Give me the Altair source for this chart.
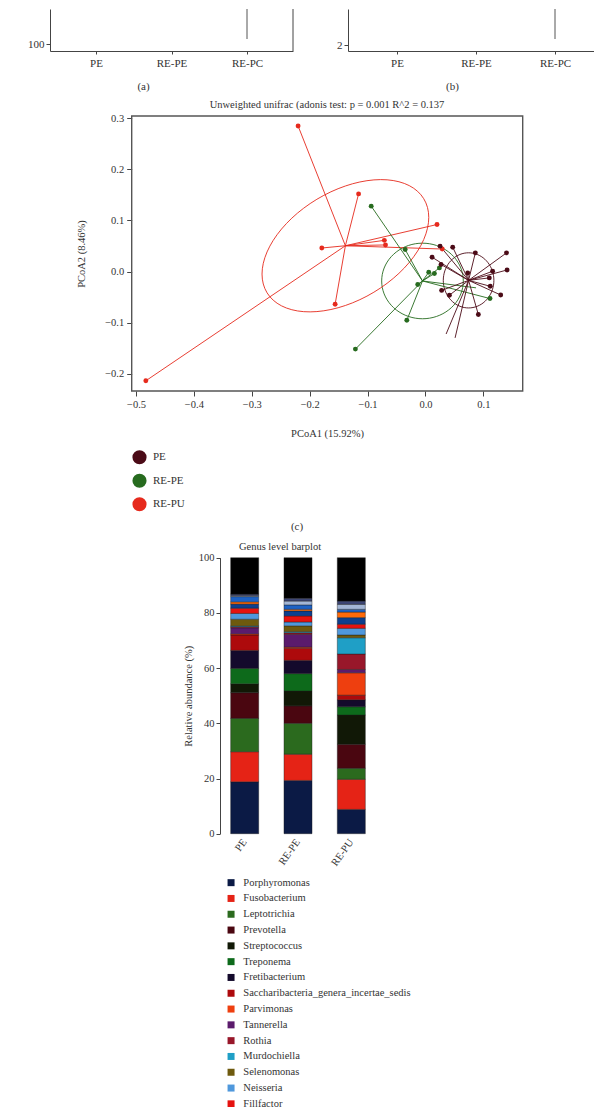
import altair as alt
import pandas as pd

FONT = "Liberation Serif"
INK = "#333333"
AX = "#444444"
W = 586

# ---------------- (a) / (b): box summaries (only the low end of RE-PC is in view) ----------------
box_groups = ["PE", "RE-PE", "RE-PC"]
box_colors = ["#4b0b17", "#276b1f", "#e62a1d"]
a_low = [205, 200, 110]
a_q1 = [260, 250, 178]
a_median = [300, 290, 215]
a_q3 = [345, 335, 255]
a_high = [430, 410, 330]
b_low = [3.2, 3.1, 2.12]
b_q1 = [3.8, 3.7, 3.0]
b_median = [4.1, 4.0, 3.3]
b_q3 = [4.4, 4.3, 3.6]
b_high = [4.9, 4.8, 4.2]
a_ticks = [100]
b_ticks = [2]
label_a = "(a)"
label_b = "(b)"

# ---------------- (c): PCoA coordinates ----------------
pc_groups = ["PE", "RE-PE", "RE-PU"]
pc_colors = ["#4b0b17", "#276b1f", "#e62a1d"]
pe_x = [0.0253, 0.0471, 0.0862, 0.140, 0.0115, 0.027, 0.073, 0.116, 0.141, 0.1103, 0.112, 0.130, 0.028, 0.0414, 0.0914, 0.0357, 0.0512]
pe_y = [0.0496, 0.0476, 0.0365, 0.0365, 0.028, 0.0137, -0.003, 0.0006, 0.003, -0.0125, -0.029, -0.046, -0.037, -0.0465, -0.0843, -0.1224, -0.130]
pe_dot = [1, 1, 1, 1, 1, 1, 1, 1, 1, 1, 1, 1, 1, 1, 1, 0, 0]
repe_x = [-0.0937, -0.035, 0.0057, 0.0155, 0.0241, -0.0133, -0.0322, -0.121, 0.1115, 0.0874]
repe_y = [0.128, 0.043, -0.0014, -0.004, 0.0071, -0.0255, -0.0955, -0.152, -0.053, -0.032]
repe_dot = [1, 1, 1, 1, 1, 1, 1, 1, 1, 0]
repu_x = [-0.220, -0.1155, 0.020, -0.071, -0.069, -0.179, 0.029, -0.156, -0.483]
repu_y = [0.285, 0.152, 0.092, 0.061, 0.052, 0.046, 0.044, -0.064, -0.214]
repu_dot = [1, 1, 1, 1, 1, 1, 1, 1, 1]
# ellipse shape (half extents along x / y and phase), centred on each group's centroid
ell_ax = [0.0437, 0.0705, 0.144]
ell_ay = [0.054, 0.074, 0.1295]
ell_phase = [1.5708, 1.5708, 1.128]
pc_xticks = [-0.5, -0.4, -0.3, -0.2, -0.1, 0.0, 0.1]
pc_yticks = [-0.2, -0.1, 0.0, 0.1, 0.2, 0.3]
pc_title = "Unweighted unifrac (adonis test: p = 0.001 R^2 = 0.137"
pc_xtitle = "PCoA1 (15.92%)"
pc_ytitle = "PCoA2 (8.46%)"
label_c = "(c)"

# ---------------- genus barplot ----------------
samples = ["PE", "RE-PE", "RE-PU"]
genera = ["Porphyromonas", "Fusobacterium", "Leptotrichia", "Prevotella", "Streptococcus",
          "Treponema", "Fretibacterium", "Saccharibacteria_genera_incertae_sedis", "Parvimonas",
          "Tannerella", "Rothia", "Murdochiella", "Selenomonas", "Neisseria", "Fillfactor",
          "genus_16", "genus_17", "genus_18", "genus_19", "genus_20", "Others"]
genus_colors = ["#0b1a45", "#e52316", "#2b6a1e", "#4a0610", "#111806",
                "#0d6a1b", "#140a2c", "#ad0a0c", "#ee3f0f",
                "#5b1b6c", "#98172a", "#1f9fc6", "#6e5a0e", "#4f98dc", "#e5120f",
                "#0d3f8e", "#ff6a0a", "#1e62c4", "#a3b6d6", "#3d4675", "#000000"]
pe_ab = [18.8, 10.9, 12.1, 9.3, 3.2, 5.6, 6.5, 5.6, 0.4, 2.2, 0.4, 0.3, 2.4, 2.1, 1.9, 1.5, 0.8, 1.9, 0.3, 0.6, 13.2]
repe_ab = [19.3, 9.5, 11.2, 6.3, 5.4, 6.3, 4.8, 4.4, 0.4, 4.6, 0.6, 0.4, 2.1, 1.4, 2.2, 1.8, 0.6, 1.6, 1.4, 1.0, 14.7]
repu_ab = [8.8, 10.9, 4.0, 8.7, 10.6, 3.0, 2.5, 1.7, 8.1, 1.2, 5.6, 5.9, 1.0, 2.4, 1.5, 2.4, 2.0, 1.0, 1.8, 1.2, 15.7]
bar_yticks = [0, 20, 40, 60, 80, 100]
bar_title = "Genus level barplot"
bar_ytitle = "Relative abundance (%)"
legend_shown = genera[:15]

# ======================= row 1 : panels (a) and (b) =======================
HT = 42


def box_panel(low, q1, med, q3, high, xrange, xpad, xalign, yoffset, ydomain, yticks, yfmt, label, title_x, frame_x=None):
    df = pd.DataFrame({"group": box_groups, "low": low, "q1": q1, "median": med, "q3": q3, "high": high})
    xs = alt.Scale(type="point", domain=box_groups, range=xrange, padding=xpad, align=xalign)
    xax = alt.Axis(orient="bottom", title=label, titleX=title_x, titleY=35, titleBaseline="middle",
                   labelAngle=0, tickSize=3, labelPadding=3, labelFontSize=11, titleFontSize=11)
    x = alt.X("group:N", sort=box_groups, scale=xs, axis=xax)
    ys = alt.Scale(domain=ydomain, nice=False, zero=False)
    yax = alt.Axis(orient="left", offset=yoffset, values=yticks, format=yfmt, title=None, tickSize=4,
                   labelFontSize=11)
    col = alt.Color("group:N", scale=alt.Scale(domain=box_groups, range=box_colors), legend=None)
    base = alt.Chart(df)
    whisk = base.mark_rule(color="#555555", strokeWidth=1, clip=True).encode(
        x=x, y=alt.Y("low:Q", scale=ys, axis=yax), y2="high:Q")
    box = base.mark_bar(size=38, stroke="#111111", strokeWidth=0.8, clip=True).encode(
        x=x, y=alt.Y("q1:Q", scale=ys, axis=yax), y2="q3:Q", color=col)
    med_t = base.mark_tick(size=38, color="#111111", thickness=1.5, clip=True).encode(
        x=x, y=alt.Y("median:Q", scale=ys, axis=yax))
    layers = [whisk, box, med_t]
    if frame_x is not None:
        frame = alt.Chart(alt.Data(values=[{}])).mark_rule(color=AX, strokeWidth=1).encode(
            x=alt.value(frame_x), y=alt.value(0), y2=alt.value(HT))
        layers.append(frame)
    return alt.layer(*layers)


panel_a = box_panel(a_low, a_q1, a_median, a_q3, a_high, [42, 285], 0.609, 0.5, -42,
                    [86, 170], a_ticks, "d", label_a, 135, frame_x=285)
panel_b = box_panel(b_low, b_q1, b_median, b_q3, b_high, [340, 586], 0.557, 0.557, -340,
                    [1.88, 2.72], b_ticks, "d", label_b, 444)
row_top = alt.layer(panel_a, panel_b).resolve_scale(x="independent", y="independent", color="independent").properties(
    width=W, height=HT)

# ======================= row 2 : PCoA =======================
HP = 340
frames = []
for g, xs_, ys_, ds_ in [("RE-PU", repu_x, repu_y, repu_dot), ("RE-PE", repe_x, repe_y, repe_dot), ("PE", pe_x, pe_y, pe_dot)]:
    frames.append(pd.DataFrame({"group": g, "x": xs_, "y": ys_, "dot": ds_}))
pts = pd.concat(frames, ignore_index=True)
cent = pts.groupby("group")[["x", "y"]].mean()
ell = pd.DataFrame({"group": pc_groups, "ax": ell_ax, "ay": ell_ay, "phase": ell_phase})
ell["cx"] = [cent.loc[g, "x"] for g in pc_groups]
ell["cy"] = [cent.loc[g, "y"] for g in pc_groups]

PX = alt.X("x:Q", scale=alt.Scale(domain=[-0.5074, 0.168], range=[123.7, 514.7], nice=False, zero=False),
           axis=alt.Axis(orient="bottom", values=pc_xticks, format=".1f", tickSize=5, domain=False, labelPadding=3,
                         title=pc_xtitle, titleX=319, titleY=42, titleBaseline="middle"))
PY = alt.Y("y:Q", scale=alt.Scale(domain=[-0.234, 0.3045], range=[340, 65], nice=False, zero=False),
           axis=alt.Axis(orient="left", offset=-123.7, values=pc_yticks, format=".1f", tickSize=5, domain=False,
                         labelPadding=3, title=pc_ytitle, titleX=-50.7, titleY=202.5, titleBaseline="middle"))
pc_scale = alt.Scale(domain=pc_groups, range=pc_colors)
PC = alt.Color("group:N", scale=pc_scale, legend=None)
PC_leg = alt.Color("group:N", scale=pc_scale,
                   legend=alt.Legend(orient="none", legendX=124, legendY=398.7, title=None, symbolType="circle",
                                     symbolSize=200, symbolStrokeWidth=0, symbolOpacity=1, labelFontSize=11,
                                     labelOffset=6, rowPadding=8.5, padding=0))

pc_frame = alt.Chart(alt.Data(values=[{}])).mark_rect(fillOpacity=0, stroke="#555555", strokeWidth=1.4).encode(
    x=alt.value(123.7), x2=alt.value(514.7), y=alt.value(65), y2=alt.value(340))
pc_ell = alt.Chart(ell).transform_calculate(k="sequence(0, 73)").transform_flatten(["k"]).transform_calculate(
    t="datum.k * 2 * PI / 72",
    x="datum.cx + datum.ax * cos(datum.t)",
    y="datum.cy + datum.ay * cos(datum.t - datum.phase)",
).mark_line(strokeWidth=1, opacity=0.9).encode(x=PX, y=PY, color=PC, order="k:Q", detail="group:N")
pc_spokes = alt.Chart(pts).transform_joinaggregate(mx="mean(x)", my="mean(y)", groupby=["group"]).mark_rule(
    strokeWidth=1, opacity=0.9).encode(x=PX, y=PY, x2="mx:Q", y2="my:Q", color=PC)
pc_points = alt.Chart(pts).transform_filter("datum.dot == 1").mark_circle(size=24, opacity=1).encode(
    x=PX, y=PY, color=PC_leg)
pc_title_t = alt.Chart(alt.Data(values=[{"t": pc_title}])).mark_text(fontSize=10.5, color=INK).encode(
    text="t:N", x=alt.value(319), y=alt.value(54))
pc_label_t = alt.Chart(alt.Data(values=[{"t": label_c}])).mark_text(fontSize=11, color=INK).encode(
    text="t:N", x=alt.value(289), y=alt.value(476))
row_pc = alt.layer(pc_frame, pc_ell, pc_spokes, pc_points, pc_title_t, pc_label_t).resolve_legend(
    color="independent").properties(width=W, height=HP)

# ======================= row 3 : genus barplot =======================
HB = 442.7
rows = []
for s, vals in zip(samples, [pe_ab, repe_ab, repu_ab]):
    for i, (g, v) in enumerate(zip(genera, vals)):
        rows.append({"sample": s, "genus": g, "value": v, "rank": i})
bars = pd.DataFrame(rows)

BX = alt.X("sample:N", sort=samples,
           scale=alt.Scale(type="band", domain=samples, range=[212, 368], paddingInner=0.474, paddingOuter=0.2),
           axis=alt.Axis(orient="bottom", domain=False, ticks=False, labelAngle=305, labelAlign="right",
                         labelBaseline="middle", labelPadding=6, labelFontSize=10.5, title=None))
BY = alt.Y("value:Q", stack="zero", scale=alt.Scale(domain=[0, 100], range=[442.7, 166.7], nice=False),
           axis=alt.Axis(orient="left", offset=-212, values=bar_yticks, tickSize=4, labelPadding=2,
                         title=bar_ytitle, titleX=-32, titleY=304.7, titleBaseline="middle"))
BC = alt.Color("genus:N", scale=alt.Scale(domain=genera, range=genus_colors),
               legend=alt.Legend(values=legend_shown, orient="none", legendX=217.8, legendY=486.4, title=None,
                                 symbolType="square", symbolSize=49, symbolStrokeWidth=0, symbolOpacity=1,
                                 labelFontSize=10.5, labelOffset=7, rowPadding=4.8, padding=0, labelLimit=500))
bar_marks = alt.Chart(bars).mark_bar(stroke="#1a1a1a", strokeWidth=0.4).encode(
    x=BX, y=BY, color=BC, order=alt.Order("rank:Q", sort="ascending"))
bar_title_t = alt.Chart(alt.Data(values=[{"t": bar_title}])).mark_text(fontSize=10.5, color=INK).encode(
    text="t:N", x=alt.value(272), y=alt.value(156))
row_bar = alt.layer(bar_marks, bar_title_t).properties(width=W, height=HB)

chart = alt.vconcat(row_top, row_pc, row_bar, spacing=0, bounds="flush").resolve_scale(
    color="independent", x="independent", y="independent"
).resolve_legend(color="independent").properties(padding=0).configure_view(
    stroke=None
).configure_axis(
    labelFont=FONT, titleFont=FONT, labelColor=INK, titleColor=INK, labelFontSize=10.5, titleFontSize=10.5,
    titleFontWeight="normal", domainColor=AX, tickColor=AX, grid=False
).configure_legend(labelFont=FONT, titleFont=FONT, labelColor=INK).configure_text(font=FONT)

chart.save("out.html", embed_options={"renderer": "svg", "actions": False})
